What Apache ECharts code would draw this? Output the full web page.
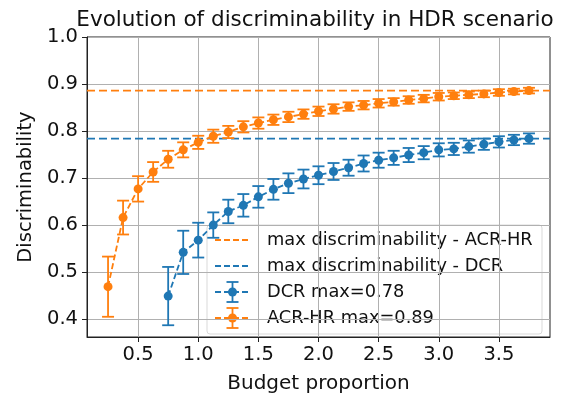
<!DOCTYPE html>
<html>
<head>
<meta charset="utf-8">
<script src="https://cdn.jsdelivr.net/npm/echarts@6/dist/echarts.min.js"></script>
<style>
  html, body { margin: 0; padding: 0; background: #fff; }
  #chart { width: 566px; height: 399px; }
</style>
</head>
<body>
<div id="chart"></div>
<script>
// Budget proportions sampled for both protocols
const budget = [0.25, 0.375, 0.5, 0.625, 0.75, 0.875, 1.0, 1.125, 1.25, 1.375,
  1.5, 1.625, 1.75, 1.875, 2.0, 2.125, 2.25, 2.375, 2.5, 2.625,
  2.75, 2.875, 3.0, 3.125, 3.25, 3.375, 3.5, 3.625, 3.75];

// ACR-HR: mean discriminability and half-width of the error bar
const acrMean = [0.469, 0.616, 0.677, 0.713, 0.740, 0.760, 0.776, 0.789, 0.798, 0.809,
  0.817, 0.824, 0.830, 0.836, 0.842, 0.847, 0.852, 0.855, 0.859, 0.862,
  0.866, 0.869, 0.873, 0.875, 0.877, 0.879, 0.882, 0.884, 0.886];
const acrErr = [0.064, 0.036, 0.027, 0.021, 0.018, 0.016, 0.014, 0.014, 0.013, 0.012,
  0.012, 0.011, 0.011, 0.010, 0.010, 0.010, 0.009, 0.009, 0.009, 0.008,
  0.008, 0.008, 0.008, 0.007, 0.007, 0.007, 0.007, 0.006, 0.006];

// DCR starts at a budget of 0.75
const dcrBudget = budget.slice(4);
const dcrMean = [0.449, 0.542, 0.568, 0.600, 0.629, 0.642, 0.660, 0.676, 0.689, 0.698,
  0.706, 0.714, 0.722, 0.731, 0.738, 0.743, 0.749, 0.754, 0.760, 0.762,
  0.767, 0.772, 0.777, 0.781, 0.784];
const dcrErr = [0.062, 0.046, 0.037, 0.027, 0.025, 0.024, 0.023, 0.022, 0.021, 0.020,
  0.019, 0.018, 0.017, 0.017, 0.016, 0.015, 0.015, 0.014, 0.014, 0.013,
  0.013, 0.012, 0.012, 0.011, 0.011];

const xTicks = [0.5, 1.0, 1.5, 2.0, 2.5, 3.0, 3.5];
const yTicks = [0.4, 0.5, 0.6, 0.7, 0.8, 0.9, 1.0];

const X_MIN = 0.075, X_MAX = 3.925;
const Y_MIN = 0.362, Y_MAX = 1.0;

const BLUE = '#1f77b4';
const ORANGE = '#ff7f0e';
const TEXT = '#111';
const FONT = '"DejaVu Sans", sans-serif';

const acrMax = Math.max(...acrMean);
const dcrMax = Math.max(...dcrMean);

const legendLabels = [
  'max discriminability - ACR-HR',
  'max discriminability - DCR',
  'DCR max=' + dcrMax.toFixed(2),
  'ACR-HR max=' + acrMax.toFixed(2)
];

function errorRows(xs, mean, err) {
  return xs.map((x, i) => [x, mean[i] - err[i], mean[i] + err[i]]);
}

function errorBarRenderer(color) {
  return function (params, api) {
    const x = api.value(0);
    const top = api.coord([x, api.value(2)]);
    const bot = api.coord([x, api.value(1)]);
    const cap = 6;
    const style = { stroke: color, lineWidth: 1.8 };
    return {
      type: 'group',
      children: [
        { type: 'line', shape: { x1: top[0], y1: top[1], x2: bot[0], y2: bot[1] }, style },
        { type: 'line', shape: { x1: top[0] - cap, y1: top[1], x2: top[0] + cap, y2: top[1] }, style },
        { type: 'line', shape: { x1: bot[0] - cap, y1: bot[1], x2: bot[0] + cap, y2: bot[1] }, style }
      ]
    };
  };
}

const pairs = (xs, ys) => xs.map((x, i) => [x, ys[i]]);

// Legend: translucent box with dashed / error-bar handles
const legendBox = { x: 207, y: 225, w: 335, h: 109 };
const rowY = [240, 266, 292, 318];
const handleX0 = 215, handleX1 = 250, textX = 267;

function dashedHandle(y, color) {
  return {
    type: 'line',
    shape: { x1: handleX0, y1: y, x2: handleX1, y2: y },
    style: { stroke: color, lineWidth: 1.8, lineDash: [6, 3] }
  };
}
function errorHandle(y, color) {
  const cx = (handleX0 + handleX1) / 2;
  const s = { stroke: color, lineWidth: 1.8 };
  return {
    type: 'group',
    children: [
      dashedHandle(y, color),
      { type: 'line', shape: { x1: cx, y1: y - 10, x2: cx, y2: y + 10 }, style: s },
      { type: 'line', shape: { x1: cx - 6, y1: y - 10, x2: cx + 6, y2: y - 10 }, style: s },
      { type: 'line', shape: { x1: cx - 6, y1: y + 10, x2: cx + 6, y2: y + 10 }, style: s },
      { type: 'circle', shape: { cx: cx, cy: y, r: 4.5 }, style: { fill: color } }
    ]
  };
}

const legendColors = [ORANGE, BLUE, BLUE, ORANGE];
const legendChildren = [
  {
    type: 'rect',
    shape: { x: legendBox.x, y: legendBox.y, width: legendBox.w, height: legendBox.h, r: 3 },
    style: { fill: 'rgba(255,255,255,0.8)', stroke: '#d9d9d9', lineWidth: 1 }
  }
];
legendLabels.forEach((label, i) => {
  legendChildren.push(i < 2 ? dashedHandle(rowY[i], legendColors[i]) : errorHandle(rowY[i], legendColors[i]));
  legendChildren.push({
    type: 'text',
    style: {
      x: textX, y: rowY[i], text: label, fill: TEXT,
      font: '17.8px ' + FONT, verticalAlign: 'middle', align: 'left'
    }
  });
});

function maxLine(value, color, z) {
  return {
    type: 'line',
    data: [[X_MIN, value], [X_MAX, value]],
    symbol: 'none',
    silent: true,
    lineStyle: { color: color, width: 1.8, type: [8, 4] },
    z: z
  };
}

const chart = echarts.init(document.getElementById('chart'), null, { renderer: 'canvas' });

chart.setOption({
  animation: false,
  backgroundColor: '#fff',
  grid: {
    left: 87, right: 16, top: 37, bottom: 55,
    show: true, borderColor: '#222', borderWidth: 1, backgroundColor: 'transparent'
  },
  xAxis: {
    type: 'value',
    min: X_MIN, max: X_MAX,
    name: 'Budget proportion',
    nameLocation: 'middle',
    nameGap: 37,
    nameTextStyle: { fontFamily: FONT, fontSize: 20, color: TEXT },
    axisLine: { show: true, onZero: false, lineStyle: { color: '#222', width: 1 } },
    axisTick: { show: true, inside: false, length: 5, customValues: xTicks, lineStyle: { color: '#222' } },
    axisLabel: {
      customValues: xTicks, margin: 8, fontFamily: FONT, fontSize: 19.5, color: TEXT,
      formatter: v => v.toFixed(1)
    },
    splitLine: { show: true, lineStyle: { color: '#b0b0b0', width: 1 } }
  },
  yAxis: {
    type: 'value',
    min: Y_MIN, max: Y_MAX,
    name: 'Discriminability',
    nameLocation: 'middle',
    nameGap: 45,
    nameTextStyle: { fontFamily: FONT, fontSize: 19.5, color: TEXT },
    axisLine: { show: true, onZero: false, lineStyle: { color: '#222', width: 1 } },
    axisTick: { show: true, inside: false, length: 5, customValues: yTicks, lineStyle: { color: '#222' } },
    axisLabel: {
      customValues: yTicks, margin: 9, fontFamily: FONT, fontSize: 19.5, color: TEXT,
      formatter: v => v.toFixed(1)
    },
    splitLine: { show: true, lineStyle: { color: '#b0b0b0', width: 1 } }
  },
  graphic: [
    {
      type: 'text',
      z: 10,
      style: {
        x: 315, y: 20, text: 'Evolution of discriminability in HDR scenario',
        font: '21.5px ' + FONT, fill: TEXT, align: 'center', verticalAlign: 'middle'
      }
    },
    { type: 'group', z: 100, children: legendChildren }
  ],
  series: [
    // best reachable discriminability of each protocol
    Object.assign({ name: legendLabels[0] }, maxLine(acrMax, ORANGE, 1)),
    Object.assign({ name: legendLabels[1] }, maxLine(dcrMax, BLUE, 1)),
    {
      name: legendLabels[2] + ' err',
      type: 'custom',
      renderItem: errorBarRenderer(BLUE),
      data: errorRows(dcrBudget, dcrMean, dcrErr),
      z: 3
    },
    {
      name: legendLabels[2],
      type: 'line',
      data: pairs(dcrBudget, dcrMean),
      symbol: 'circle', symbolSize: 9,
      itemStyle: { color: BLUE },
      lineStyle: { color: BLUE, width: 1.8, type: [6, 3] },
      z: 4
    },
    {
      name: legendLabels[3] + ' err',
      type: 'custom',
      renderItem: errorBarRenderer(ORANGE),
      data: errorRows(budget, acrMean, acrErr),
      z: 5
    },
    {
      name: legendLabels[3],
      type: 'line',
      data: pairs(budget, acrMean),
      symbol: 'circle', symbolSize: 9,
      itemStyle: { color: ORANGE },
      lineStyle: { color: ORANGE, width: 1.8, type: [6, 3] },
      z: 6
    }
  ]
});
</script>
</body>
</html>
